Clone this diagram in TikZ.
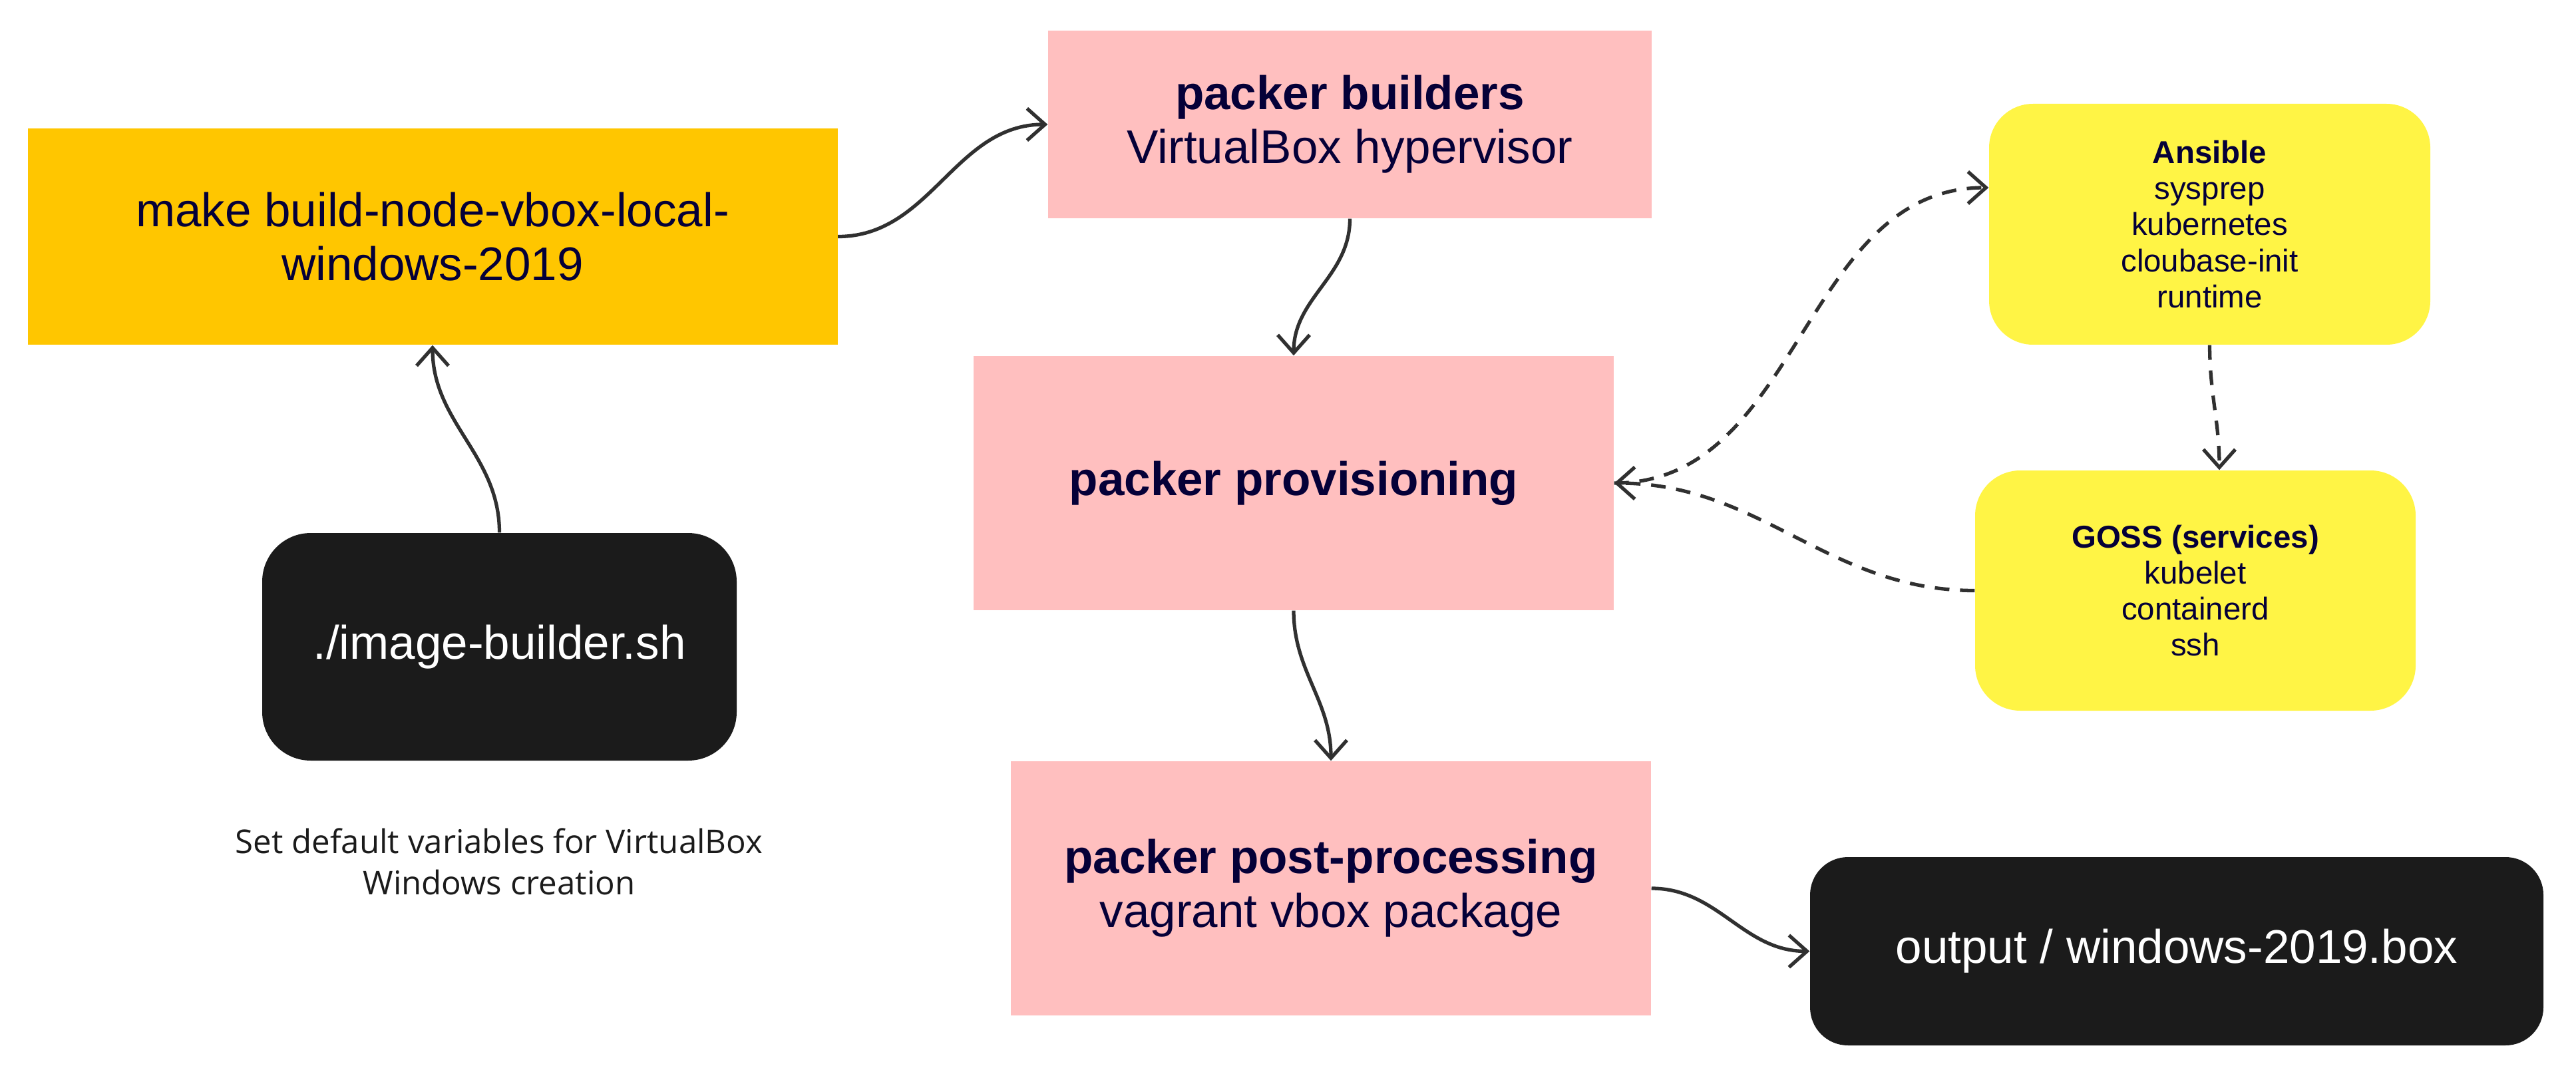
\documentclass[tikz,border=0pt]{standalone}
\usepackage{fontspec}
\setmainfont{Liberation Sans}
\newfontfamily\notefont{Open Sans}
\usetikzlibrary{arrows.meta}

\begin{document}
\begin{tikzpicture}[
        bigtext/.style={font=\fontsize{20.2}{23}\selectfont, align=center, inner sep=0pt},
        smalltext/.style={font=\fontsize{13.5}{15.4}\selectfont, align=center, inner sep=0pt},
        packerbox/.style={bigtext, fill=packerpink, text=navy, minimum width=9.62cm, minimum height=3.82cm},
        toolbox/.style={smalltext, fill=tooly, text=navy, minimum width=6.62cm, minimum height=3.62cm, rounded corners=0.66cm},
        darkbox/.style={bigtext, fill=darkfill, text=white, rounded corners=0.7cm},
        flow/.style={draw=flowgray, line width=1.5pt, -{Straight Barb[length=2.7mm,width=4.8mm]}},
        dashflow/.style={flow, dash pattern=on 2.2mm off 1.6mm}
    ]
            \xdefinecolor{navy}{HTML}{050038}
            \xdefinecolor{makeorange}{HTML}{FFC600}
            \xdefinecolor{packerpink}{HTML}{FFBFBF}
            \xdefinecolor{tooly}{HTML}{FFF445}
            \xdefinecolor{darkfill}{HTML}{1B1B1B}
            \xdefinecolor{flowgray}{HTML}{303030}

            % Page size
            \useasboundingbox (0, 0) rectangle (38.71, -16.14);

            % Draw the make target and the script on the left
            \node[bigtext, fill=makeorange, text=navy, minimum width=12.17cm, minimum height=3.25cm] (Make) at (6.50, -3.555) {make build-node-vbox-local-\\windows-2019};
            \node[darkbox, minimum width=7.13cm, minimum height=3.42cm, rounded corners=0.73cm] (Script) at (7.505, -9.72) {./image-builder.sh};
            \node[font=\notefont\fontsize{14}{17.6}\selectfont, text=darkfill, align=center] (Note) at (7.50, -12.95) {Set default variables for VirtualBox\\Windows creation};

            % Draw the packer stages in the middle
            \node[packerbox, minimum width=9.07cm, minimum height=2.82cm] (Builders) at (20.285, -1.87) {\textbf{packer builders}\\VirtualBox hypervisor};
            \node[packerbox] (Provisioning) at (19.44, -7.26) {\textbf{packer provisioning}};
            \node[packerbox] (PostProcessing) at (20.00, -13.35) {\textbf{packer post-processing}\\vagrant vbox package};

            % Draw the provisioners on the right
            \node[toolbox, minimum width=6.63cm] (Ansible) at (33.205, -3.37) {\textbf{Ansible}\\sysprep\\kubernetes\\cloubase-init\\runtime};
            \node[toolbox, minimum height=3.61cm, rounded corners=0.68cm] (Goss) at (32.99, -8.875) {\textbf{GOSS (services)}\\kubelet\\containerd\\ssh};

            % Draw the result
            \node[darkbox, minimum width=11.02cm, minimum height=2.83cm, rounded corners=0.57cm] (Output) at (32.71, -14.295) {output / windows-2019.box};

            % Connect the stages
            \draw[flow] (Script.north) to[out=90, in=-90] (Make.south);
            \draw[flow] (Make.east) to[out=0, in=180] (Builders.west);
            \draw[flow] (Builders.south) to[out=-90, in=90] (Provisioning.north);
            \draw[flow] (Provisioning.south) to[out=-90, in=90] (PostProcessing.north);
            \draw[flow] (PostProcessing.east) to[out=0, in=180] (Output.west);

            % Add provisioner lines
            \draw[dashflow] (Provisioning.east) to[out=0, in=180] ([yshift=5.5mm]Ansible.west);
            \draw[dashflow] (Ansible.south) to[out=-90, in=90] ([xshift=3.6mm]Goss.north);
            \draw[dashflow] (Goss.west) to[out=180, in=0] (Provisioning.east);

        \end{tikzpicture}
\end{document}
